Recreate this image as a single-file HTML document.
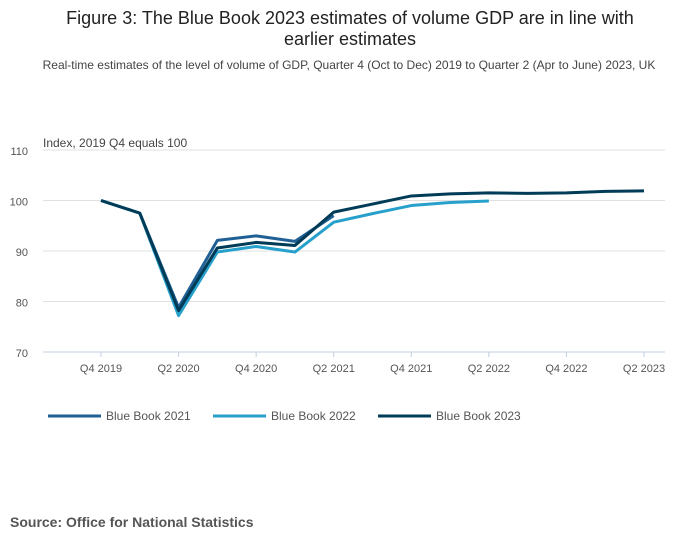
<!DOCTYPE html>
<html><head><meta charset="utf-8"><style>
body{margin:0;background:#fff;font-family:"Liberation Sans",sans-serif;}
svg text{font-family:"Liberation Sans",sans-serif;}
</style></head><body>
<svg width="700" height="549">
<text x="350" y="24" text-anchor="middle" font-size="18" fill="#222">Figure 3: The Blue Book 2023 estimates of volume GDP are in line with</text>
<text x="350" y="45" text-anchor="middle" font-size="18" fill="#222">earlier estimates</text>
<text x="349" y="69" text-anchor="middle" font-size="12" fill="#444">Real-time estimates of the level of volume of GDP, Quarter 4 (Oct to Dec) 2019 to Quarter 2 (Apr to June) 2023, UK</text>
<g id="grid"></g>
<text x="43" y="147" font-size="12" fill="#444">Index, 2019 Q4 equals 100</text>
<g id="series"></g><g id="xaxis"></g>
<g id="legend"></g>
<text x="10" y="527" font-size="14" font-weight="bold" fill="#555">Source: Office for National Statistics</text>
</svg>
<script>
const categories=["Q4 2019","Q1 2020","Q2 2020","Q3 2020","Q4 2020","Q1 2021","Q2 2021","Q3 2021","Q4 2021","Q1 2022","Q2 2022","Q3 2022","Q4 2022","Q1 2023","Q2 2023"];
const yTicks=[70,80,90,100,110];
const bb2021=[100,97.5,78.8,92.1,93.0,91.9,97.0];
const bb2022=[100,97.5,77.2,89.8,90.9,89.8,95.7,97.4,99.0,99.6,99.9];
const bb2023=[100,97.5,78.2,90.6,91.7,91.1,97.7,99.3,100.9,101.3,101.5,101.4,101.5,101.8,101.9];
const seriesNames=["Blue Book 2021","Blue Book 2022","Blue Book 2023"];
const colors=["#206095","#27a0cc","#003c57"];
const NS="http://www.w3.org/2000/svg";
const x=i=>101+i*(644-101)/14;
const y=v=>352-(v-70)*(352-150)/40;
function mk(t,a,p){const e=document.createElementNS(NS,t);for(const k in a)e.setAttribute(k,a[k]);p.appendChild(e);return e;}
const grid=document.getElementById('grid');
yTicks.forEach(v=>{
 const l=mk('line',{x1:43,x2:665,y1:y(v),y2:y(v),stroke:v===70?'#c0cfe0':'#e0e0e0','stroke-width':1},grid);
 
 
 const t=mk('text',{x:28,y:y(v)+5,'text-anchor':'end','font-size':11,fill:'#555'},grid);t.textContent=v;
 
 
});
const xa=document.getElementById('xaxis');
categories.forEach((c,i)=>{
 if(i%2)return;
 const tk=mk('line',{x1:x(i),x2:x(i),y1:352,y2:357,stroke:'#c0cfe0'},xa);
 
 
 const t=mk('text',{x:x(i),y:372,'text-anchor':'middle','font-size':11,fill:'#555'},xa);t.textContent=c;
 
 
});
const sg=document.getElementById('series');
[bb2021,bb2022,bb2023].forEach((d,s)=>{
 const p=mk('polyline',{points:d.map((v,i)=>x(i)+','+y(v)).join(' '),fill:'none',stroke:colors[s],'stroke-width':3,'stroke-linejoin':'round'},sg);
 
 
});
const lg=document.getElementById('legend');
const lx=[48,213,378];
seriesNames.forEach((n,s)=>{
 const g=mk('g',{},lg);
 
 
 mk('line',{x1:lx[s],x2:lx[s]+53,y1:416,y2:416,stroke:colors[s],'stroke-width':3},g);
 const t=mk('text',{x:lx[s]+58,y:420,'font-size':12,fill:'#555'},g);t.textContent=n;
});
</script>
</body></html>
